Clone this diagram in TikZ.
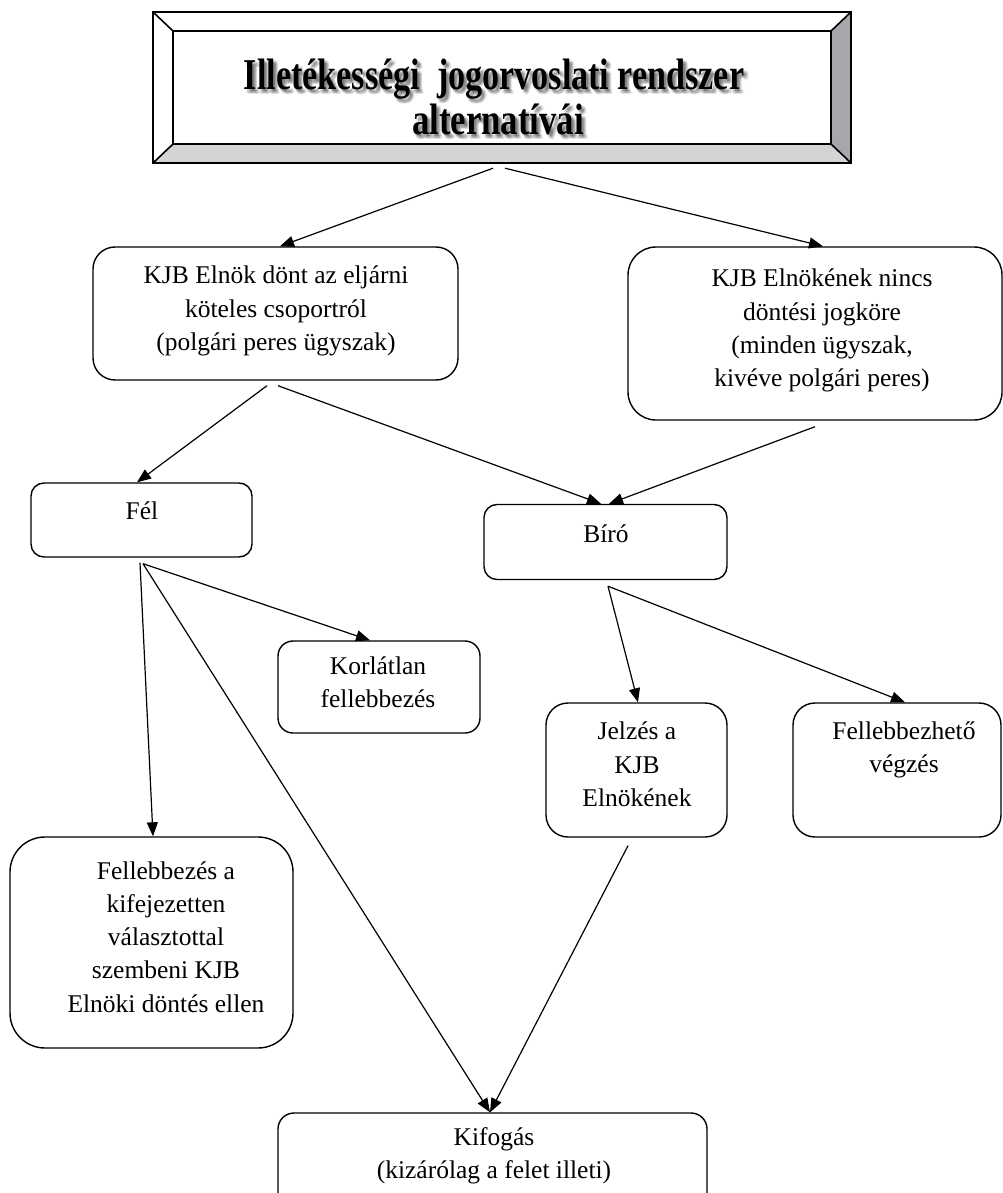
\documentclass[tikz,border=0pt]{standalone}
\usepackage{fontspec}
\setmainfont{Liberation Serif}
\usetikzlibrary{arrows.meta,calc}

\definecolor{bevelR}{HTML}{A6A7AA}
\definecolor{bevelB}{HTML}{D3D4D6}

\newcommand\ttlA{\scalebox{0.775}[1]{Illetékességi\hspace{0.25em} jogorvoslati rendszer}}
\newcommand\ttlB{\scalebox{0.79}[1]{alternatívái}}

\tikzset{
  box/.style={draw, line width=1.4pt, rounded corners=#1, inner sep=0pt},
  lbl/.style={font=\fontsize{25.5}{33.3}\selectfont, align=center, inner sep=0pt,
              execute at begin node=\strut, execute at end node=\strut},
  conn/.style={line width=1.2pt, -{Triangle[length=14pt,width=11pt]}},
  frame/.style={line width=1.6pt, line join=miter},
  ttlfont/.style={font=\fontsize{44}{48}\selectfont\bfseries, inner sep=0pt, anchor=base},
}

\begin{document}
\begin{tikzpicture}[x=1pt,y=-1pt]
\useasboundingbox (0,0) rectangle (1003,1193);

% bevelled title frame
\node[minimum width=698pt, minimum height=151pt, inner sep=0pt] (ttl) at (502,87.5) {};
\coordinate (iNW) at ($(ttl.north west)+(20,19)$);
\coordinate (iNE) at ($(ttl.north east)+(-20,19)$);
\coordinate (iSE) at ($(ttl.south east)+(-20,-19)$);
\coordinate (iSW) at ($(ttl.south west)+(20,-19)$);
\fill[bevelR] (ttl.north east) -- (ttl.south east) -- (iSE) -- (iNE) -- cycle;
\fill[bevelB] (ttl.south west) -- (ttl.south east) -- (iSE) -- (iSW) -- cycle;
\draw[frame] (ttl.north west) rectangle (ttl.south east);
\draw[frame] (iNW) rectangle (iSE);
\draw[frame] (ttl.north west) -- (iNW) (ttl.north east) -- (iNE)
             (ttl.south east) -- (iSE) (ttl.south west) -- (iSW);

% title text with a soft shadow
\foreach \dx/\dy [count=\i] in {1.5/2, 3/3, 4/2, 2/4, 3.5/4.5, 5/3.5} {
  \node[ttlfont, text=black, opacity=0.11] (tsa\i) at (494+\dx, 90+\dy) {\ttlA};
  \node[ttlfont, text=black, opacity=0.11] (tsb\i) at (498+\dx, 135+\dy) {\ttlB};
}
\node[ttlfont] (tla) at (494,90) {\ttlA};
\node[ttlfont] (tlb) at (498,135) {\ttlB};

% boxes
\node[box=22pt, minimum width=365pt, minimum height=133pt] (b1) at (275.5,313.5) {};
\node[box=28pt, minimum width=374pt, minimum height=173pt] (b2) at (815,333.5) {};
\node[box=13pt, minimum width=221pt, minimum height=74pt] (fel) at (141.5,520) {};
\node[box=13pt, minimum width=243pt, minimum height=75pt] (biro) at (605.5,542) {};
\node[box=15pt, minimum width=202pt, minimum height=92pt] (korl) at (379,687) {};
\node[box=22pt, minimum width=181pt, minimum height=134pt] (jel) at (636.5,770) {};
\node[box=22pt, minimum width=208pt, minimum height=134pt] (fvz) at (897,770) {};
\node[box=35pt, minimum width=283pt, minimum height=211pt] (fella) at (151.5,942.5) {};
\node[box=16pt, minimum width=429pt, minimum height=102pt] (kif) at (492.5,1164) {};

% labels
\node[lbl] (t1) at (276,313.3) {KJB Elnök dönt az eljárni\\köteles csoportról\\(polgári peres ügyszak)};
\node[lbl] (t2) at (822,332.8) {KJB Elnökének nincs\\döntési jogköre\\(minden ügyszak,\\kivéve polgári peres)};
\node[lbl] (tfel) at (142,513.3) {Fél};
\node[lbl] (tbiro) at (606,536.3) {Bíró};
\node[lbl] (tkorl) at (378,687.3) {Korlátlan\\fellebbezés};
\node[lbl] (tjel) at (637,769.3) {Jelzés a\\KJB\\Elnökének};
\node[lbl] (tfvz) at (904,752.3) {Fellebbezhető\\végzés};
\node[lbl] (tfella) at (166,941.8) {Fellebbezés a\\kifejezetten\\választottal\\szembeni KJB\\Elnöki döntés ellen};
\node[lbl] (tkif) at (494,1157.8) {Kifogás\\(kizárólag a felet illeti)};

% connectors
\draw[conn] ($(ttl.south)+(-9,5)$) -- ($(b1.north)+(4.5,0)$);
\draw[conn] ($(ttl.south)+(3,5)$) -- ($(b2.north)+(8,0)$);
\draw[conn] ($(b1.south)+(-8.5,5)$) -- ($(fel.north)+(-4.5,0)$);
\draw[conn] ($(b1.south)+(2.5,5)$) -- ($(biro.north)+(-4.5,0)$);
\draw[conn] ($(b2.south)+(0,6)$) -- ($(biro.north)+(3.5,0)$);
\draw[conn] ($(fel.south)+(-1.5,5)$) -- ($(fella.north)+(1.5,0)$);
\draw[conn] ($(fel.south)+(1.5,6)$) -- ($(korl.north)+(-9,0)$);
\draw[conn] ($(fel.south)+(1.5,6)$) -- ($(kif.north)+(-2.5,0)$);
\draw[conn] ($(biro.south)+(2.5,6)$) -- ($(jel.north)+(1.5,0)$);
\draw[conn] ($(biro.south)+(2.5,6)$) -- ($(fvz.north)+(8,0)$);
\draw[conn] ($(jel.south)+(-8.5,8)$) -- ($(kif.north)+(-2.5,0)$);
\end{tikzpicture}
\end{document}
